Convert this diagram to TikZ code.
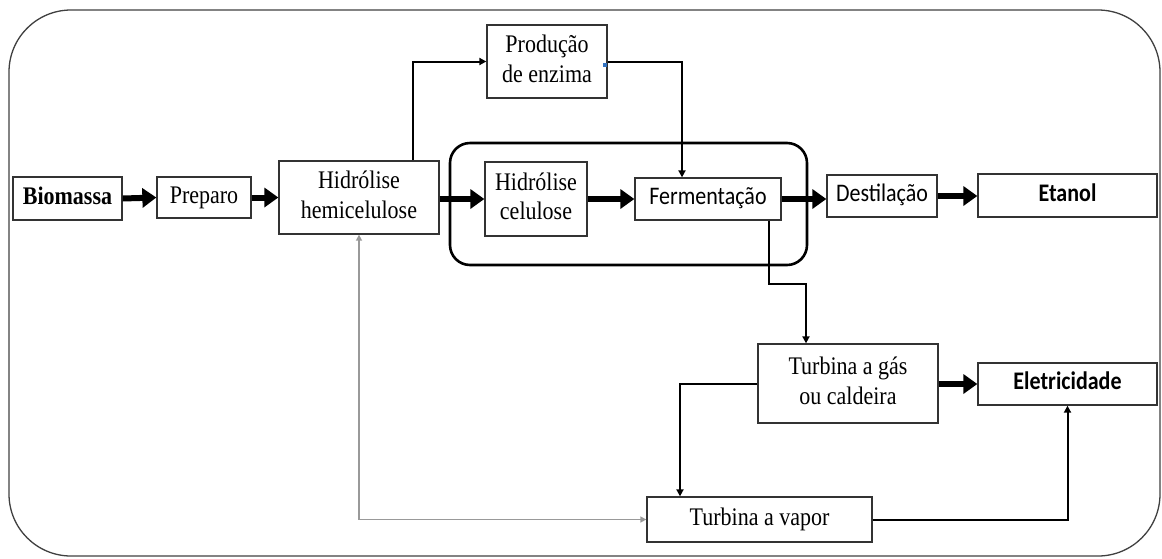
\documentclass[tikz,border=0pt]{standalone}
\usepackage{fontspec}
\usepackage{graphicx}
\setmainfont{Liberation Serif}
\newfontfamily\calfont{Carlito}
\usetikzlibrary{arrows.meta,calc}

% slightly tall lettering, centred lines
\newcommand{\tb}[1]{\scalebox{1}[1.15]{\begin{tabular}{@{}c@{}}#1\end{tabular}}}

\tikzset{
  proc/.style={draw=black!80, line width=1.3pt, inner sep=0pt, align=center,
    font=\fontsize{22}{26}\selectfont},
  flow/.style={line width=6pt, -{Triangle[length=14pt,width=19pt]}},
  link/.style={line width=2pt, -{Triangle[length=7pt,width=7pt]}},
  back/.style={line width=1.6pt, black!40, {Triangle[length=6pt,width=6pt]}-{Triangle[length=6pt,width=6pt]}},
}

\begin{document}
\begin{tikzpicture}[x=1pt,y=-1pt]
\useasboundingbox (0,0) rectangle (1162,558);

% outer frame and the fermentation group
\draw[black!75, line width=1.3pt, rounded corners=62pt] (9,10) rectangle (1160,556);
\draw[black, line width=2.6pt, rounded corners=20pt] (450,143) rectangle (807,265);

% process steps
\node[proc, minimum width=109pt, minimum height=43pt] (bio)  at (67.5,198.5) {\tb{\textbf{Biomassa}}};
\node[proc, minimum width=94pt,  minimum height=41pt] (prep) at (204,197.5)  {\tb{Preparo}};
\node[proc, minimum width=160pt, minimum height=73pt] (hemi) at (359,197.5)  {\tb{Hidrólise\\hemicelulose}};
\node[proc, minimum width=120pt, minimum height=73pt] (enz)  at (547,61.5)   {\tb{Produção\\de enzima}};
\node[proc, minimum width=102pt, minimum height=74pt] (cel)  at (536,199)    {\tb{Hidrólise\\celulose}};
\node[proc, minimum width=146pt, minimum height=42pt] (ferm) at (708,199)    {\tb{\calfont Fermentação}};
\node[proc, minimum width=110pt, minimum height=42pt] (dest) at (882,196)    {\tb{\calfont Destilação}};
\node[proc, minimum width=179pt, minimum height=43pt] (etan) at (1067.5,195.5) {\tb{\calfont\bfseries Etanol}};
\node[proc, minimum width=180pt, minimum height=79pt] (gas)  at (848,383.5)  {\tb{Turbina a gás\\ou caldeira}};
\node[proc, minimum width=179pt, minimum height=42pt] (elet) at (1067.5,384) {\tb{\calfont\bfseries Eletricidade}};
\node[proc, minimum width=225pt, minimum height=45pt] (vap)  at (759.5,519.5) {\tb{Turbina a vapor}};

% main flow
\draw[flow] (bio.east) -- (prep.west);
\draw[flow] (prep.east) -- (hemi.west);
\draw[flow] (hemi.east |- cel.west) -- (cel.west);
\draw[flow] (cel.east) -- (ferm.west);
\draw[flow] (ferm.east) -- (ferm.east -| dest.west);
\draw[flow] (dest.east) -- (dest.east -| etan.west);
\draw[flow] (gas.east |- elet.west) -- (elet.west);

% side streams
\draw[link] ([xshift=54pt]hemi.north) |- (enz.west);
\draw[link] (enz.east) -| ([xshift=-26pt]ferm.north);
\draw[link] ([xshift=61pt]ferm.south) -- ++(0,63) -| ([xshift=-42pt]gas.north);
\draw[link] (gas.west) -| ([xshift=-79.5pt]vap.north);
\draw[link] (vap.east) -| (elet.south);
\draw[back] (vap.west) -| (hemi.south);

% small handle mark on the enzyme box
\fill[blue!55!cyan!70!black!80] (602.5,62.5) rectangle (606.5,66.5);
\end{tikzpicture}
\end{document}
